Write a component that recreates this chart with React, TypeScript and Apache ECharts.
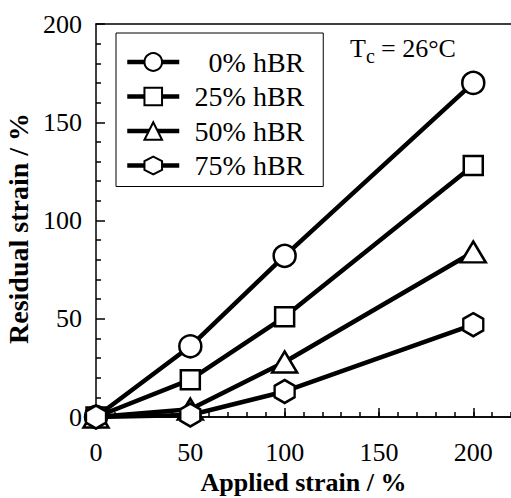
import React, { useEffect, useRef } from "react";
import * as echarts from "echarts";

const appliedStrain = [0, 50, 100, 200];
const seriesNames = ["0% hBR", "25% hBR", "50% hBR", "75% hBR"];
const residual0 = [0, 36, 82, 170];
const residual25 = [0, 19, 51, 128];
const residual50 = [0, 4, 28, 84];
const residual75 = [0, 1, 13, 47];
const xMajorTicks = [0, 50, 100, 150, 200];

const FONT = "serif";
const HEX = "path://M10,0 L18.66,5 L18.66,15 L10,20 L1.34,15 L1.34,5 Z";

export default function App() {
  const ref = useRef<HTMLDivElement>(null);
  useEffect(() => {
    document.body.style.margin = "0";
    const chart = echarts.init(ref.current!, null, { renderer: "svg" });
    const allData = [residual0, residual25, residual50, residual75];
    const symbols: any[] = ["circle", "rect", "triangle", HEX];
    const sizes: any[] = [[22, 22], [19, 19], [25, 21], [20, 23]];
    const series = allData.map((vals, i) => ({
      name: seriesNames[i],
      type: "line",
      xAxisIndex: 0,
      yAxisIndex: 0,
      data: appliedStrain.map((x, j) => [x, vals[j]]),
      symbol: symbols[i],
      symbolSize: sizes[i],
      showAllSymbol: true,
      lineStyle: { color: "#000", width: 4.5 },
      itemStyle: { color: "#fff", borderColor: "#000", borderWidth: 2.5 },
      z: 2 + i,
    }));
    chart.setOption({
      animation: false,
      backgroundColor: "#fff",
      textStyle: { fontFamily: FONT },
      grid: { left: 96, top: 24, right: 0, bottom: 81, containLabel: false, outerBoundsMode: "none" },
      xAxis: [
        {
          type: "value",
          position: "bottom",
          min: 0,
          max: 220,
          interval: 10,
          name: "Applied strain / %",
          nameLocation: "middle",
          nameGap: 52,
          nameTextStyle: { fontFamily: FONT, fontSize: 26, fontWeight: "bold", color: "#000" },
          axisLine: { show: true, onZero: false, lineStyle: { color: "#000", width: 1.5 } },
          axisTick: { show: true, inside: true, length: 5, lineStyle: { color: "#000", width: 1.5 } },
          axisLabel: { customValues: xMajorTicks, margin: 22, fontFamily: FONT, fontSize: 26, color: "#000" },
          splitLine: { show: false },
        },
        {
          type: "value",
          position: "bottom",
          min: 0,
          max: 220,
          interval: 50,
          axisLine: { show: true, onZero: false, lineStyle: { color: "#000", width: 1.5 } },
          axisTick: { show: true, inside: true, length: 9, customValues: xMajorTicks, lineStyle: { color: "#000", width: 1.5 } },
          axisLabel: { show: false },
          splitLine: { show: false },
        },
        {
          type: "value",
          position: "top",
          min: 0,
          max: 220,
          axisLine: { show: true, onZero: false, lineStyle: { color: "#000", width: 1.5 } },
          axisTick: { show: false },
          axisLabel: { show: false },
          splitLine: { show: false },
        },
      ],
      yAxis: [
        {
          type: "value",
          min: 0,
          max: 200,
          interval: 50,
          name: "Residual strain / %",
          nameLocation: "middle",
          nameGap: 62,
          nameTextStyle: { fontFamily: FONT, fontSize: 28, fontWeight: "bold", color: "#000", padding: [0, 16, 0, 0] },
          axisLine: { show: true, onZero: false, lineStyle: { color: "#000", width: 1.5 } },
          axisTick: { show: true, inside: true, length: 9, lineStyle: { color: "#000", width: 1.5 } },
          minorTick: { show: true, splitNumber: 5, length: 5, lineStyle: { color: "#000", width: 1.5 } },
          axisLabel: { margin: 14, fontFamily: FONT, fontSize: 26, color: "#000" },
          splitLine: { show: false },
        },
      ],
      legend: {
        show: true,
        orient: "vertical",
        left: 116,
        top: 33,
        padding: [15, 19, 7, 9],
        itemGap: 6.5,
        itemWidth: 52,
        itemHeight: 22,
        borderColor: "#000",
        borderWidth: 1,
        backgroundColor: "#fff",
        lineStyle: { width: 4.5, color: "#000" },
        data: seriesNames,
        formatter: (n: string) => `{a|${n}}`,
        textStyle: {
          color: "#000",
          fontFamily: FONT,
          fontSize: 28,
          lineHeight: 22,
          rich: { a: { width: 120, height: 22, lineHeight: 22, align: "right", fontFamily: FONT, fontSize: 28, color: "#000" } },
        },
      },
      graphic: [
        { type: "text", left: 350, top: 35, style: { text: "T", font: `26px ${FONT}`, fill: "#000" } },
        { type: "text", left: 366, top: 46, style: { text: "c", font: `20px ${FONT}`, fill: "#000" } },
        { type: "text", left: 381, top: 35, style: { text: "= 26°C", font: `26px ${FONT}`, fill: "#000" } },
      ],
      series,
    });
    return () => chart.dispose();
  }, []);
  return <div ref={ref} style={{ width: 511, height: 498 }} />;
}
